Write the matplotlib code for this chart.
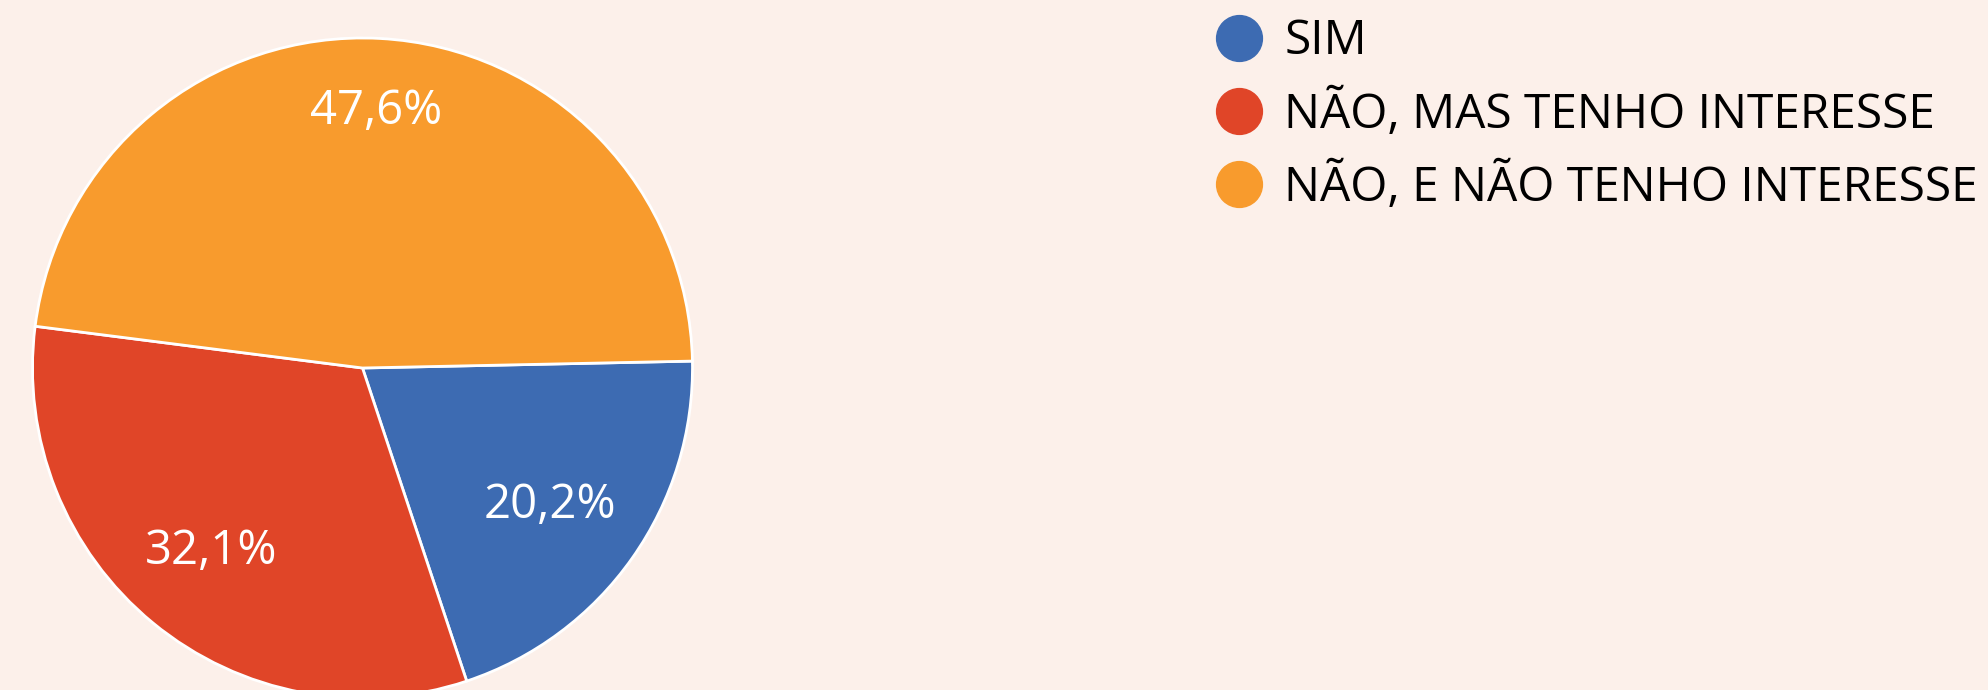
import matplotlib
matplotlib.use('Agg')
import matplotlib.pyplot as plt
from matplotlib.lines import Line2D

categories = ['SIM', 'NÃO, MAS TENHO INTERESSE', 'NÃO, E NÃO TENHO INTERESSE']
values = [20.2, 32.1, 47.6]
colors = ['#3d6bb2', '#e04528', '#f89b2d']

BG = '#fcf0ea'

fig = plt.figure(figsize=(19.88, 6.90), dpi=100)
fig.patch.set_facecolor(BG)

# square box for the pie (pixels -> figure fraction)
W, H = 1988, 690
cx, cy, r = 362.5, 368, 330
ax = fig.add_axes([(cx - r) / W, (H - cy - r) / H, 2 * r / W, 2 * r / H])
ax.set_facecolor('none')


def pct_label(p):
    return f'{p:.1f}'.replace('.', ',') + '%'


wedges, texts, autotexts = ax.pie(
    values, colors=colors, startangle=1.2, counterclock=False,
    autopct=pct_label, pctdistance=0.72, radius=1,
    wedgeprops=dict(edgecolor='white', linewidth=2),
    textprops=dict(color='white', fontsize=34, family=['Open Sans', 'DejaVu Sans']),
)
# biggest slice label sits a bit further out
x, y = autotexts[2].get_position()
autotexts[2].set_position((x * 0.78 / 0.72, y * 0.78 / 0.72))
x, y = autotexts[0].get_position()
autotexts[0].set_position((x - 0.02, y))

ax.set_xlim(-1, 1)
ax.set_ylim(-1, 1)
ax.axis('off')

handles = [Line2D([], [], marker='o', linestyle='none', markersize=33,
                  markerfacecolor=c, markeredgecolor=c) for c in colors]
leg = fig.legend(handles, categories, loc='upper left',
                 bbox_to_anchor=(1186 / W, 1 + 6 / H), frameon=False,
                 prop=dict(family=['Open Sans'], size=34.5),
                 handletextpad=0.35, labelspacing=0.5, borderpad=0, handlelength=1.2)

fig.savefig('out.png', dpi=100, facecolor=BG)
